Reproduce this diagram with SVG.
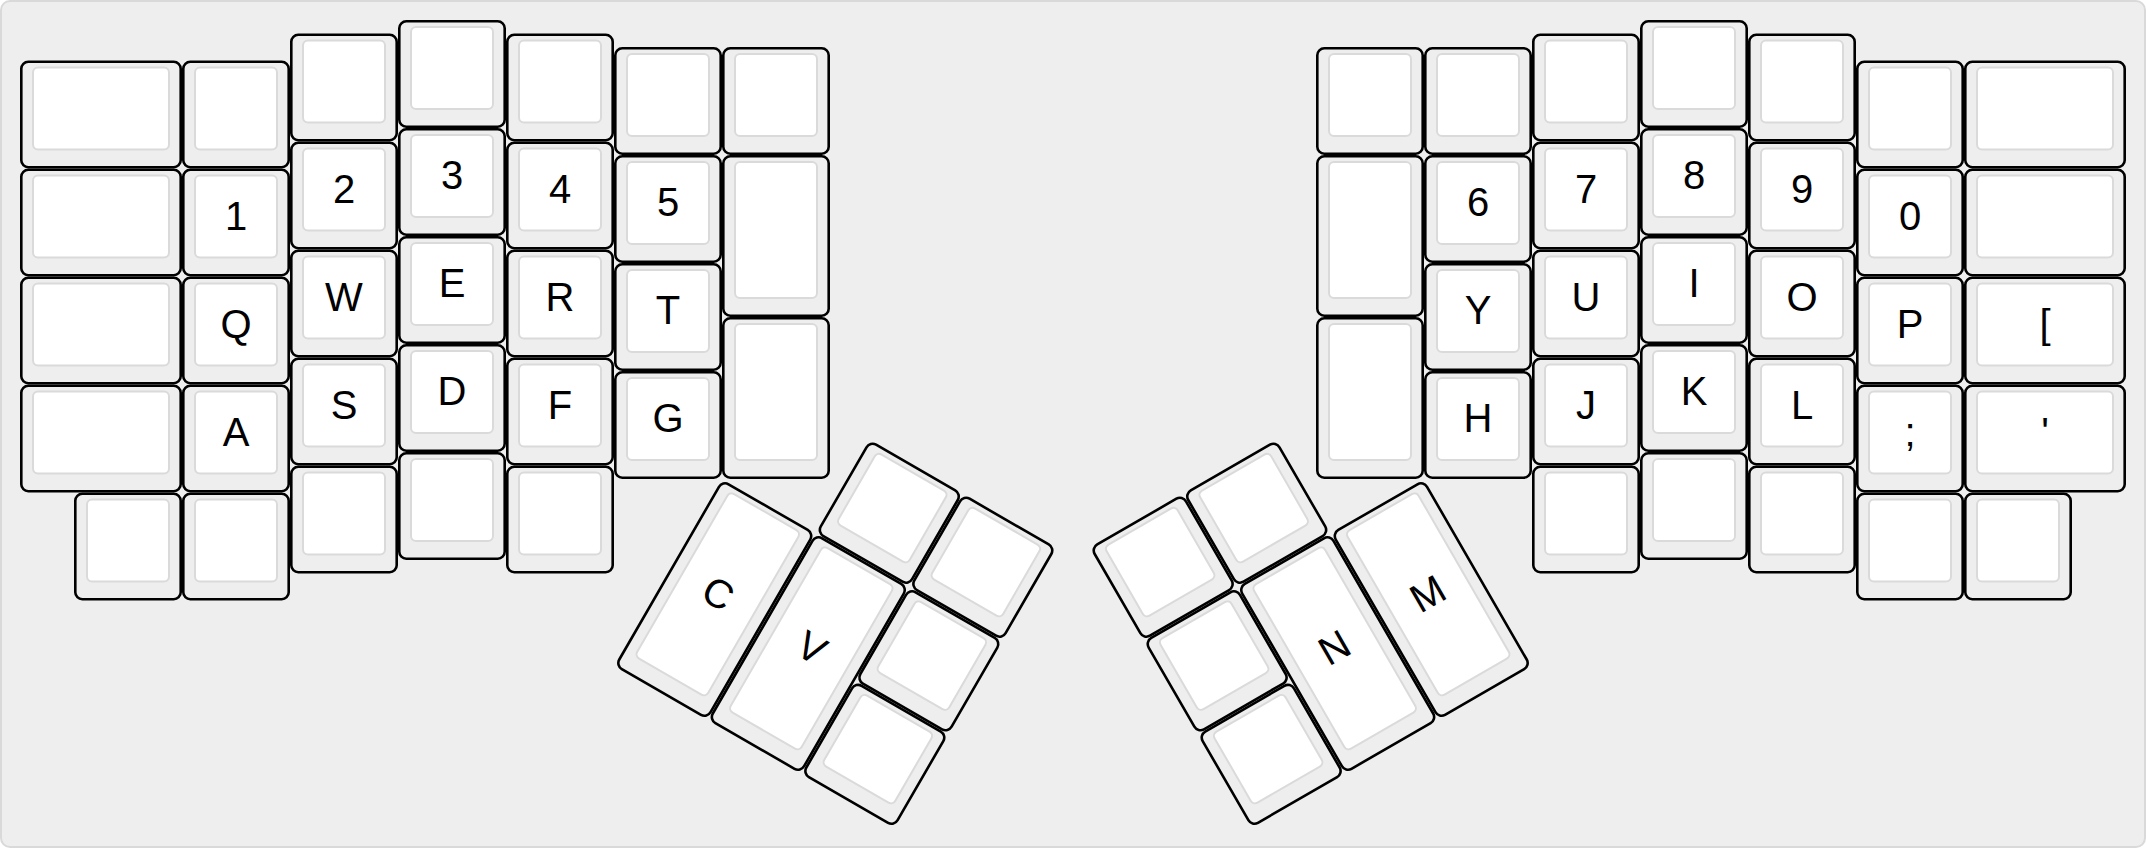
<svg xmlns="http://www.w3.org/2000/svg" xmlns:xlink="http://www.w3.org/1999/xlink" width="2146" height="848" viewBox="0 0 2146 848">
<style>
.o{fill:#eeeeee;stroke:#000;stroke-width:2.6}
.i{fill:#ffffff;stroke:#dadada;stroke-width:2}
.l{font-family:"Liberation Sans",Arial,Helvetica,sans-serif;font-size:40px;fill:#000;text-anchor:middle}
</style>
<defs>
<g id="s1"><rect class="o" x="1.3" y="1.3" width="105.4" height="105.4" rx="7"/><rect class="i" x="13" y="7" width="82" height="82" rx="5"/></g>
<g id="s15w"><rect class="o" x="1.3" y="1.3" width="159.4" height="105.4" rx="7"/><rect class="i" x="13" y="7" width="136" height="82" rx="5"/></g>
<g id="s15h"><rect class="o" x="1.3" y="1.3" width="105.4" height="159.4" rx="7"/><rect class="i" x="13" y="7" width="82" height="136" rx="5"/></g>
<g id="s2h"><rect class="o" x="1.3" y="1.3" width="105.4" height="213.4" rx="7"/><rect class="i" x="13" y="7" width="82" height="190" rx="5"/></g>
</defs>
<rect x="1" y="1" width="2144" height="846" rx="9" fill="#eeeeee" stroke="#d9d9d9" stroke-width="2"/>

<g id="left-half">
<g id="k-l0-0" transform="translate(20,60.5)"><use href="#s15w"/></g>
<g id="k-l0-1" transform="translate(20,168.5)"><use href="#s15w"/></g>
<g id="k-l0-2" transform="translate(20,276.5)"><use href="#s15w"/></g>
<g id="k-l0-3" transform="translate(20,384.5)"><use href="#s15w"/></g>
<g id="k-l0-4" transform="translate(74,492.5)"><use href="#s1"/></g>

<g id="k-l1-0" transform="translate(182,60.5)"><use href="#s1"/></g>
<g id="k-1" transform="translate(182,168.5)"><use href="#s1"/><text class="l" x="54" y="61">1</text></g>
<g id="k-Q" transform="translate(182,276.5)"><use href="#s1"/><text class="l" x="54" y="61">Q</text></g>
<g id="k-A" transform="translate(182,384.5)"><use href="#s1"/><text class="l" x="54" y="61">A</text></g>
<g id="k-l1-4" transform="translate(182,492.5)"><use href="#s1"/></g>

<g id="k-l2-0" transform="translate(290,33.5)"><use href="#s1"/></g>
<g id="k-2" transform="translate(290,141.5)"><use href="#s1"/><text class="l" x="54" y="61">2</text></g>
<g id="k-W" transform="translate(290,249.5)"><use href="#s1"/><text class="l" x="54" y="61">W</text></g>
<g id="k-S" transform="translate(290,357.5)"><use href="#s1"/><text class="l" x="54" y="61">S</text></g>
<g id="k-l2-4" transform="translate(290,465.5)"><use href="#s1"/></g>

<g id="k-l3-0" transform="translate(398,20)"><use href="#s1"/></g>
<g id="k-3" transform="translate(398,128)"><use href="#s1"/><text class="l" x="54" y="61">3</text></g>
<g id="k-E" transform="translate(398,236)"><use href="#s1"/><text class="l" x="54" y="61">E</text></g>
<g id="k-D" transform="translate(398,344)"><use href="#s1"/><text class="l" x="54" y="61">D</text></g>
<g id="k-l3-4" transform="translate(398,452)"><use href="#s1"/></g>

<g id="k-l4-0" transform="translate(506,33.5)"><use href="#s1"/></g>
<g id="k-4" transform="translate(506,141.5)"><use href="#s1"/><text class="l" x="54" y="61">4</text></g>
<g id="k-R" transform="translate(506,249.5)"><use href="#s1"/><text class="l" x="54" y="61">R</text></g>
<g id="k-F" transform="translate(506,357.5)"><use href="#s1"/><text class="l" x="54" y="61">F</text></g>
<g id="k-l4-4" transform="translate(506,465.5)"><use href="#s1"/></g>

<g id="k-l5-0" transform="translate(614,47)"><use href="#s1"/></g>
<g id="k-5" transform="translate(614,155)"><use href="#s1"/><text class="l" x="54" y="61">5</text></g>
<g id="k-T" transform="translate(614,263)"><use href="#s1"/><text class="l" x="54" y="61">T</text></g>
<g id="k-G" transform="translate(614,371)"><use href="#s1"/><text class="l" x="54" y="61">G</text></g>

<g id="k-l6-0" transform="translate(722,47)"><use href="#s1"/></g>
<g id="k-l6-1" transform="translate(722,155)"><use href="#s15h"/></g>
<g id="k-l6-2" transform="translate(722,317)"><use href="#s15h"/></g>
</g>

<g id="left-thumb">
<g id="k-C" transform="translate(722,479) rotate(30)"><use href="#s2h"/><text class="l" x="54" y="115">C</text></g>
<g id="k-V" transform="translate(722,479) rotate(30) translate(108,0)"><use href="#s2h"/><text class="l" x="54" y="115">V</text></g>
<g id="k-lt1" transform="translate(722,479) rotate(30) translate(108,-108)"><use href="#s1"/></g>
<g id="k-lt2" transform="translate(722,479) rotate(30) translate(216,-108)"><use href="#s1"/></g>
<g id="k-lt3" transform="translate(722,479) rotate(30) translate(216,0)"><use href="#s1"/></g>
<g id="k-lt4" transform="translate(722,479) rotate(30) translate(216,108)"><use href="#s1"/></g>
</g>

<g id="right-thumb">
<g id="k-M" transform="translate(1424,479) rotate(-30) translate(-108,0)"><use href="#s2h"/><text class="l" x="54" y="115">M</text></g>
<g id="k-N" transform="translate(1424,479) rotate(-30) translate(-216,0)"><use href="#s2h"/><text class="l" x="54" y="115">N</text></g>
<g id="k-rt1" transform="translate(1424,479) rotate(-30) translate(-216,-108)"><use href="#s1"/></g>
<g id="k-rt2" transform="translate(1424,479) rotate(-30) translate(-324,-108)"><use href="#s1"/></g>
<g id="k-rt3" transform="translate(1424,479) rotate(-30) translate(-324,0)"><use href="#s1"/></g>
<g id="k-rt4" transform="translate(1424,479) rotate(-30) translate(-324,108)"><use href="#s1"/></g>
</g>

<g id="right-half">
<g id="k-r12-0" transform="translate(1316,47)"><use href="#s1"/></g>
<g id="k-r12-1" transform="translate(1316,155)"><use href="#s15h"/></g>
<g id="k-r12-2" transform="translate(1316,317)"><use href="#s15h"/></g>

<g id="k-r13-0" transform="translate(1424,47)"><use href="#s1"/></g>
<g id="k-6" transform="translate(1424,155)"><use href="#s1"/><text class="l" x="54" y="61">6</text></g>
<g id="k-Y" transform="translate(1424,263)"><use href="#s1"/><text class="l" x="54" y="61">Y</text></g>
<g id="k-H" transform="translate(1424,371)"><use href="#s1"/><text class="l" x="54" y="61">H</text></g>

<g id="k-r14-0" transform="translate(1532,33.5)"><use href="#s1"/></g>
<g id="k-7" transform="translate(1532,141.5)"><use href="#s1"/><text class="l" x="54" y="61">7</text></g>
<g id="k-U" transform="translate(1532,249.5)"><use href="#s1"/><text class="l" x="54" y="61">U</text></g>
<g id="k-J" transform="translate(1532,357.5)"><use href="#s1"/><text class="l" x="54" y="61">J</text></g>
<g id="k-r14-4" transform="translate(1532,465.5)"><use href="#s1"/></g>

<g id="k-r15-0" transform="translate(1640,20)"><use href="#s1"/></g>
<g id="k-8" transform="translate(1640,128)"><use href="#s1"/><text class="l" x="54" y="61">8</text></g>
<g id="k-I" transform="translate(1640,236)"><use href="#s1"/><text class="l" x="54" y="61">I</text></g>
<g id="k-K" transform="translate(1640,344)"><use href="#s1"/><text class="l" x="54" y="61">K</text></g>
<g id="k-r15-4" transform="translate(1640,452)"><use href="#s1"/></g>

<g id="k-r16-0" transform="translate(1748,33.5)"><use href="#s1"/></g>
<g id="k-9" transform="translate(1748,141.5)"><use href="#s1"/><text class="l" x="54" y="61">9</text></g>
<g id="k-O" transform="translate(1748,249.5)"><use href="#s1"/><text class="l" x="54" y="61">O</text></g>
<g id="k-L" transform="translate(1748,357.5)"><use href="#s1"/><text class="l" x="54" y="61">L</text></g>
<g id="k-r16-4" transform="translate(1748,465.5)"><use href="#s1"/></g>

<g id="k-r17-0" transform="translate(1856,60.5)"><use href="#s1"/></g>
<g id="k-0" transform="translate(1856,168.5)"><use href="#s1"/><text class="l" x="54" y="61">0</text></g>
<g id="k-P" transform="translate(1856,276.5)"><use href="#s1"/><text class="l" x="54" y="61">P</text></g>
<g id="k-semicolon" transform="translate(1856,384.5)"><use href="#s1"/><text class="l" x="54" y="61">;</text></g>
<g id="k-r17-4" transform="translate(1856,492.5)"><use href="#s1"/></g>

<g id="k-r18-0" transform="translate(1964,60.5)"><use href="#s15w"/></g>
<g id="k-r18-1" transform="translate(1964,168.5)"><use href="#s15w"/></g>
<g id="k-bracket" transform="translate(1964,276.5)"><use href="#s15w"/><text class="l" x="81" y="61">[</text></g>
<g id="k-quote" transform="translate(1964,384.5)"><use href="#s15w"/><text class="l" x="81" y="61">'</text></g>
<g id="k-r18-4" transform="translate(1964,492.5)"><use href="#s1"/></g>
</g>
</svg>
